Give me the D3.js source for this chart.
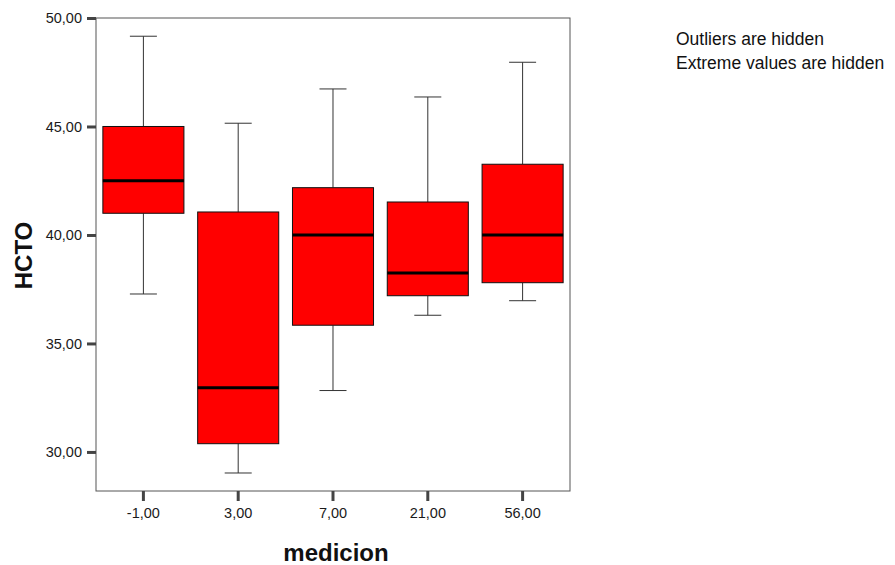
<!DOCTYPE html>
<html>
<head>
<meta charset="utf-8">
<script src="https://cdn.jsdelivr.net/npm/d3@7"></script>
<style>
  html, body { margin: 0; padding: 0; background: #fff; }
  svg { display: block; font-family: "Liberation Sans", Arial, sans-serif; }
</style>
</head>
<body>
<svg id="chart" width="895" height="565"></svg>
<script>
// ---- data ----
const categories = ["-1,00", "3,00", "7,00", "21,00", "56,00"];
const whiskerLow = [37.28, 29.03, 32.83, 36.30, 36.97];
const q1 = [41.0, 30.38, 35.84, 37.2, 37.8];
const median = [42.5, 32.96, 40.0, 38.25, 40.0];
const q3 = [45.0, 41.06, 42.18, 41.52, 43.26];
const whiskerHigh = [49.16, 45.15, 46.73, 46.36, 47.96];
const yTicks = [30, 35, 40, 45, 50];
const notes = ["Outliers are hidden", "Extreme values are hidden"];

const rows = categories.map((c, i) => ({
  cat: c, lo: whiskerLow[i], q1: q1[i], med: median[i], q3: q3[i], hi: whiskerHigh[i],
}));

// ---- layout ----
const plot = { left: 96, right: 570, top: 18, bottom: 491 };
const svg = d3.select("#chart");

const x = d3.scaleBand().domain(categories).range([plot.left, plot.right])
  .paddingInner(0.145).paddingOuter(0.0725);
const y = d3.scaleLinear().domain([28.2, 50]).range([plot.bottom, plot.top]);
const comma = (v) => d3.format(".2f")(v).replace(".", ",");

// spss-style axis: thick dark stubs, no domain line
function styleAxis(g) {
  g.attr("font-family", null).attr("font-size", 14.5);
  g.select(".domain").remove();
  g.selectAll(".tick line").attr("stroke", "#444").attr("stroke-width", 3);
  g.selectAll(".tick text").attr("fill", "#1a1a1a");
}

// frame
svg.append("rect")
  .attr("x", plot.left).attr("y", plot.top)
  .attr("width", plot.right - plot.left).attr("height", plot.bottom - plot.top)
  .attr("fill", "none").attr("stroke", "#555").attr("stroke-width", 1);

svg.append("g").attr("transform", `translate(${plot.left},0)`)
  .call(d3.axisLeft(y).tickValues(yTicks).tickFormat(comma).tickSize(9).tickPadding(5))
  .call(styleAxis);

svg.append("g").attr("transform", `translate(0,${plot.bottom})`)
  .call(d3.axisBottom(x).tickSize(10).tickPadding(7))
  .call(styleAxis);

// boxes
const bw = x.bandwidth();
const cap = bw / 3;
const box = svg.append("g").selectAll("g.box").data(rows).join("g").attr("class", "box")
  .attr("transform", (d) => `translate(${x(d.cat)},0)`);

box.append("line") // upper whisker
  .attr("x1", bw / 2).attr("x2", bw / 2)
  .attr("y1", (d) => y(d.hi)).attr("y2", (d) => y(d.q3))
  .attr("stroke", "#333");
box.append("line") // lower whisker
  .attr("x1", bw / 2).attr("x2", bw / 2)
  .attr("y1", (d) => y(d.q1)).attr("y2", (d) => y(d.lo))
  .attr("stroke", "#333");
box.append("line")
  .attr("x1", bw / 2 - cap / 2).attr("x2", bw / 2 + cap / 2)
  .attr("y1", (d) => y(d.hi)).attr("y2", (d) => y(d.hi))
  .attr("stroke", "#333");
box.append("line")
  .attr("x1", bw / 2 - cap / 2).attr("x2", bw / 2 + cap / 2)
  .attr("y1", (d) => y(d.lo)).attr("y2", (d) => y(d.lo))
  .attr("stroke", "#333");
box.append("rect")
  .attr("x", 0).attr("width", bw)
  .attr("y", (d) => y(d.q3)).attr("height", (d) => y(d.q1) - y(d.q3))
  .attr("fill", "#ff0000").attr("stroke", "#111").attr("stroke-width", 1);
box.append("line")
  .attr("x1", 0).attr("x2", bw)
  .attr("y1", (d) => y(d.med)).attr("y2", (d) => y(d.med))
  .attr("stroke", "#000").attr("stroke-width", 3);

// axis titles
svg.append("text")
  .attr("transform", `translate(31.5,${(plot.top + plot.bottom) / 2 + 1}) rotate(-90)`)
  .attr("text-anchor", "middle").attr("font-weight", "bold").attr("font-size", 24)
  .attr("fill", "#111").text("HCTO");
svg.append("text")
  .attr("x", (plot.left + plot.right) / 2 + 3).attr("y", 561)
  .attr("text-anchor", "middle").attr("font-weight", "bold").attr("font-size", 24)
  .attr("fill", "#111").text("medicion");

// notes
svg.append("g").selectAll("text").data(notes).join("text")
  .attr("x", 676).attr("y", (d, i) => 45 + i * 23.5)
  .attr("font-size", 17.5).attr("fill", "#111").text((d) => d);
</script>
</body>
</html>
